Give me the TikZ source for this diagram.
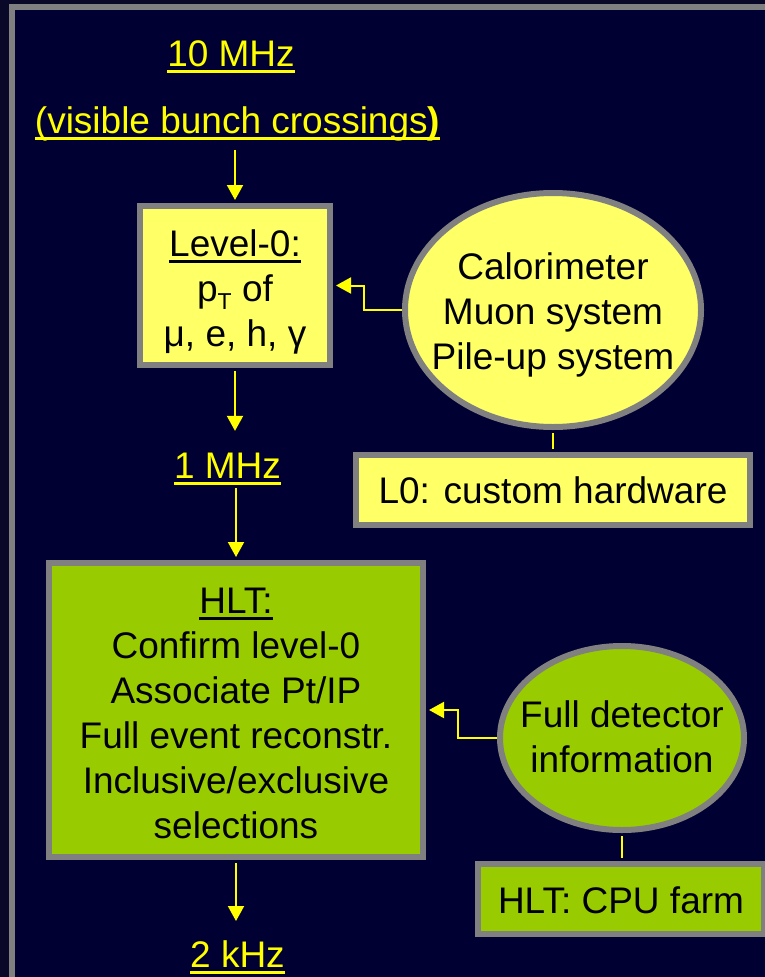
\documentclass[tikz,border=0pt]{standalone}
\usepackage{fontspec}
\setmainfont{Liberation Sans}
\usetikzlibrary{arrows.meta,shapes.geometric}
\definecolor{bgout}{HTML}{0A0828}
\definecolor{bgin}{HTML}{000033}
\definecolor{framegray}{HTML}{808080}
\definecolor{lyellow}{HTML}{FFFF66}
\definecolor{lgreen}{HTML}{99CC00}
\definecolor{arrowy}{HTML}{FFFF00}
\newcommand\ulrate[1]{\begingroup\setbox0=\hbox{#1}\rlap{\rule[-6.5pt]{\wd0}{3pt}}\box0\endgroup}
\newcommand\tstrut[1]{\rule{0pt}{#1}}
\newcommand\bstrut[1]{\rule[-#1]{0pt}{#1}}
\tikzset{
  bigtext/.style={font=\fontsize{37}{45}\selectfont},
  box/.style={draw=framegray, line width=6pt, rectangle, inner sep=0pt, align=center, text=black, bigtext},
  oval/.style={draw=framegray, line width=6pt, ellipse, inner xsep=-20pt, inner ysep=0pt, align=center, text=black, bigtext},
  rate/.style={text=arrowy, bigtext, inner sep=0pt, anchor=base},
  flow/.style={draw=arrowy, line width=2pt, -{Triangle[width=16pt,length=15pt]}},
  link/.style={draw=arrowy, line width=2pt}
}
\begin{document}
\begin{tikzpicture}[x=1pt,y=-1pt]
\useasboundingbox (0,0) rectangle (765,977);
\fill[bgout] (0,0) rectangle (765,977);
\fill[bgin] (12,7) rectangle (900,1100);
\draw[framegray, line width=6pt] (12,7) rectangle (900,1100);

% rate labels
\node[rate] (tenmhz) at (231,66) {\ulrate{10 MHz}};
\node[rate] (vbc) at (237.5,133) {\ulrate{(visible bunch crossings\textbf{)}}};
\node[rate] (onemhz) at (227.5,478) {\ulrate{1 MHz}};
\node[rate] (twokhz) at (237.5,967) {\ulrate{2 kHz}};

% boxes
\node[box, fill=lyellow, minimum width=190pt, minimum height=159pt] (lvl0) at (235,285.5)
  {\tstrut{39pt}\ulrate{Level-0:}\\ p\raisebox{-8pt}{\fontsize{23}{23}\selectfont T} of\\ μ, e, h, γ\bstrut{8pt}};
\node[oval, fill=lyellow, minimum width=296pt, minimum height=234pt] (calo) at (553,310)
  {\tstrut{36pt}Calorimeter\\ Muon system\\ Pile-up system\bstrut{8pt}};
\node[box, fill=lyellow, minimum width=394pt, minimum height=70pt] (l0hw) at (553,490)
  {\tstrut{34pt}L0: custom hardware\bstrut{8pt}};
\node[box, fill=lgreen, minimum width=374pt, minimum height=294pt] (hlt) at (236,710)
  {\tstrut{39pt}\ulrate{HLT:}\\ Confirm level-0\\ Associate Pt/IP\\ Full event reconstr.\\ Inclusive/exclusive\\ selections\bstrut{8pt}};
\node[oval, fill=lgreen, minimum width=244pt, minimum height=184pt] (fdi) at (622,738)
  {\tstrut{31pt}Full detector\\ information\bstrut{8pt}};
\node[box, fill=lgreen, minimum width=286pt, minimum height=70pt] (cpu) at (621,899)
  {\tstrut{36pt}HLT: CPU farm\bstrut{8pt}};

% connectors
\draw[flow, shorten <=9pt, shorten >=3pt] (vbc.south -| lvl0.north) -- (lvl0.north);
\draw[flow, shorten <=3pt, shorten >=21.5pt] (lvl0.south) -- (lvl0.south |- onemhz.north);
\draw[flow, shorten <=3.5pt, shorten >=3pt] (onemhz.south -| hlt.north) -- (hlt.north);
\draw[flow, shorten <=3pt, shorten >=19pt] (hlt.south) -- (hlt.south |- twokhz.north);
\draw[flow, shorten >=3pt] (calo.west) -- ++(-38,0) |- (lvl0.east);
\draw[flow, shorten >=3pt] (fdi.west) -- ++(-39,0) |- (hlt.east);
\draw[link, shorten <=3pt, shorten >=3pt] (calo.south) -- (l0hw.north);
\draw[link, shorten <=3pt, shorten >=3pt] (fdi.south) -- (fdi.south |- cpu.north);
\end{tikzpicture}
\end{document}
